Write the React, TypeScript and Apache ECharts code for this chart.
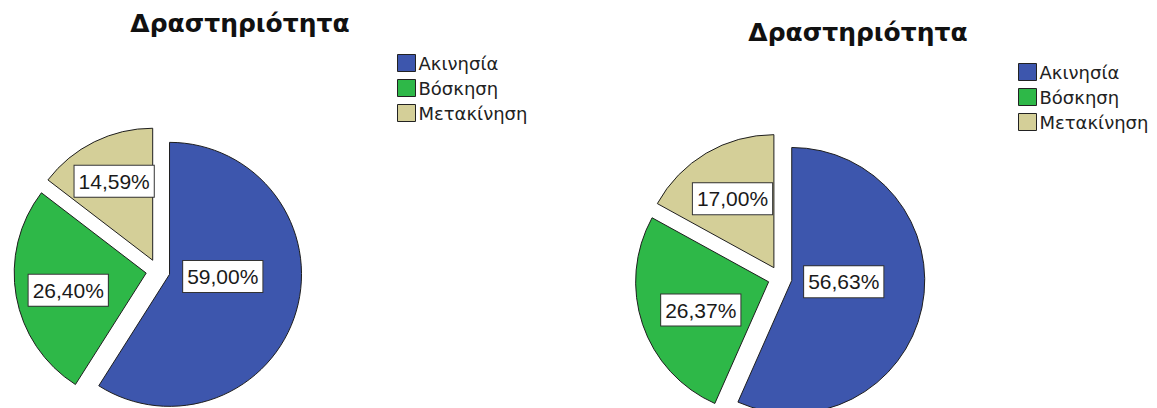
import React, { useEffect, useRef } from "react";
import * as echarts from "echarts";

const categories = ["Ακινησία", "Βόσκηση", "Μετακίνηση"];
const leftValues = [59.0, 26.4, 14.59];
const rightValues = [56.63, 26.37, 17.0];
const chartTitle = "Δραστηριότητα";
const colors = ["#3D56AD", "#2EB848", "#D4CF98"];

// label nudges (layout only), per slice
const leftLabelShift = [[-13, -17], [-10, 5], [-8, -17]];
const rightLabelShift = [[-16, -13], [-2, 6], [-6, -9]];

const fmt = (p: any) => Number(p.value).toFixed(2).replace(".", ",") + "%";

function makeSeries(values: number[], center: number[], radius: number, shifts: number[][]) {
  return {
    type: "pie",
    center,
    radius,
    startAngle: 90,
    clockwise: true,
    selectedMode: "multiple",
    selectedOffset: 12,
    silent: true,
    emphasis: { disabled: true },
    itemStyle: { borderColor: "#1e1e1e", borderWidth: 1 },
    label: {
      show: true,
      position: "inside",
      formatter: fmt,
      fontFamily: "Liberation Sans",
      fontSize: 21,
      color: "#1a1a1a",
      backgroundColor: "#ffffff",
      borderColor: "#333333",
      borderWidth: 1,
      padding: [6, 4, 4, 4],
    },
    labelLine: { show: false },
    labelLayout: (p: any) => {
      const s = shifts[p.dataIndex] || [0, 0];
      return { dx: s[0], dy: s[1] };
    },
    data: categories.map((name, i) => ({
      name,
      value: values[i],
      selected: true,
      itemStyle: { color: colors[i] },
    })),
  };
}

function makeLegend(left: number, top: number) {
  return {
    orient: "vertical",
    left,
    top,
    padding: 0,
    icon: "rect",
    itemWidth: 18,
    itemHeight: 17,
    itemGap: 7,
    selectedMode: false,
    data: categories,
    itemStyle: { borderColor: "#222222", borderWidth: 1 },
    textStyle: { fontFamily: "DejaVu Sans", fontSize: 18, color: "#222222", padding: [0, 0, 0, -2] },
  };
}

function makeTitle(centerX: number, top: number) {
  return {
    text: chartTitle,
    left: centerX,
    top,
    textAlign: "center",
    textStyle: { fontFamily: "DejaVu Sans", fontWeight: "bold", fontSize: 25, color: "#111111" },
  };
}

export default function App() {
  const ref = useRef<HTMLDivElement>(null);
  useEffect(() => {
    if (!ref.current) return;
    const chart = echarts.init(ref.current, null, { renderer: "svg" });
    chart.setOption({
      animation: false,
      backgroundColor: "#ffffff",
      color: colors,
      title: [makeTitle(235, 6), makeTitle(853, 15)],
      legend: [makeLegend(397, 54), makeLegend(1018, 63)],
      series: [
        makeSeries(leftValues, [158, 271], 132, leftLabelShift),
        makeSeries(rightValues, [780, 278], 133, rightLabelShift),
      ],
    });
    return () => chart.dispose();
  }, []);
  return (
    <div
      ref={ref}
      style={{ position: "fixed", left: 0, top: 0, width: 1157, height: 408 }}
    />
  );
}
